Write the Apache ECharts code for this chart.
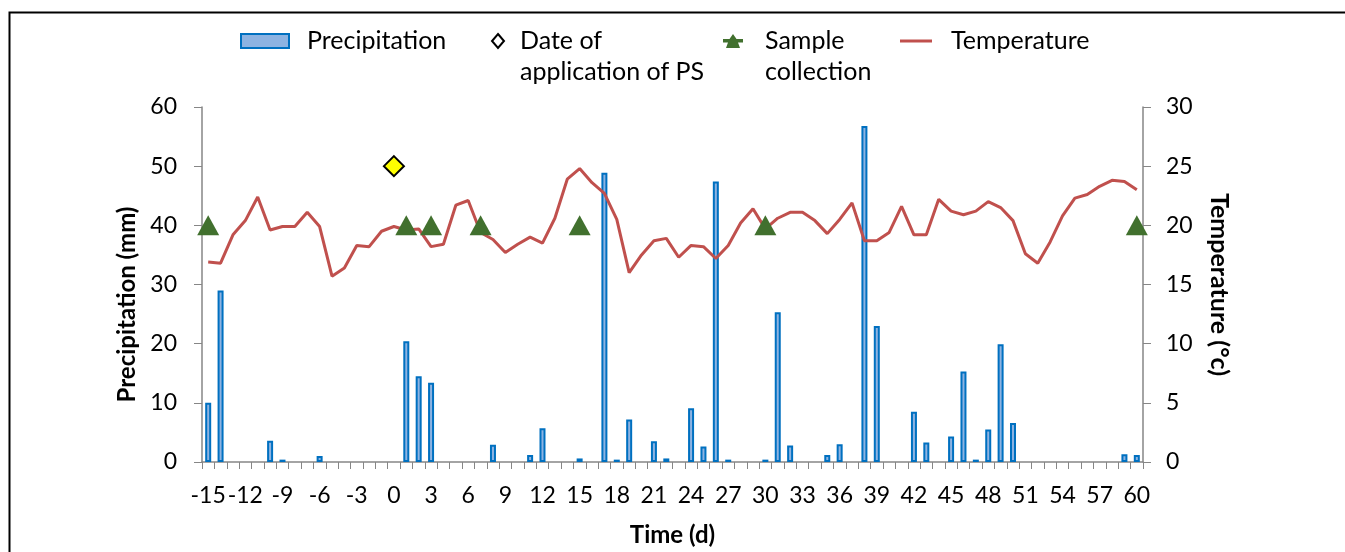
<!DOCTYPE html>
<html>
<head>
<meta charset="utf-8">
<script src="https://cdn.jsdelivr.net/npm/echarts@6/dist/echarts.min.js"></script>
<style>html,body{margin:0;padding:0;background:#fff;}#c{width:1345px;height:552px;}</style>
</head>
<body>
<div id="c"></div>
<script>
const days = [];
for (let d = -15; d <= 60; d++) days.push(String(d));

const precipitation = [
  10, 29, 0, 0, 0, 3.6, 0.4, 0, 0, 1.0,
  0, 0, 0, 0, 0, 0,
  20.4, 14.5, 13.4, 0, 0, 0, 0, 2.9, 0, 0,
  1.2, 5.7, 0, 0, 0.6, 0, 48.9, 0.4, 7.2, 0,
  3.5, 0.6, 0, 9.1, 2.6, 47.4, 0.4, 0, 0, 0.4,
  25.3, 2.8, 0, 0, 1.2, 3.0, 0, 56.8, 23.0, 0,
  0, 8.5, 3.3, 0, 4.3, 15.3, 0.4, 5.5, 19.9, 6.6,
  0, 0, 0, 0, 0, 0, 0, 0, 1.3, 1.2
];

const temperature = [
  16.9, 16.8, 19.2, 20.4, 22.4, 19.6, 19.9, 19.9, 21.1, 19.9,
  15.7, 16.4, 18.3, 18.2, 19.5, 19.9, 19.6, 19.7, 18.2, 18.4,
  21.7, 22.1, 19.4, 18.8, 17.7, 18.4, 19.0, 18.5, 20.6, 23.9,
  24.8, 23.6, 22.7, 20.5, 16.0, 17.5, 18.7, 18.9, 17.3, 18.3,
  18.2, 17.2, 18.3, 20.2, 21.4, 19.7, 20.6, 21.1, 21.1, 20.4,
  19.3, 20.5, 21.9, 18.7, 18.7, 19.4, 21.6, 19.2, 19.2, 22.2,
  21.2, 20.9, 21.2, 22.0, 21.5, 20.4, 17.6, 16.8, 18.6, 20.8,
  22.3, 22.6, 23.3, 23.8, 23.7, 23.0
];

const sampleDays = [-15, 1, 3, 7, 15, 30, 60];
const sampleLevel = 40;
const psDay = 0;
const psLevel = 50;

const FONT = 'Lato';
const chart = echarts.init(document.getElementById('c'), null, {renderer: 'canvas'});

const legendText = {fontFamily: FONT, fontSize: 25, color: '#000', lineHeight: 31};
const sampleIcon = 'path://M10 0 L13.5 5 L20 5 L20 8.5 L15 8.5 L17 14 L3 14 L5 8.5 L0 8.5 L0 5 L6.5 5 Z';

const option = {
  backgroundColor: '#fff',
  animation: false,
  textStyle: {fontFamily: FONT},
  graphic: [{
    type: 'rect',
    shape: {x: 9.5, y: 12.5, width: 1400, height: 700},
    style: {fill: 'none', stroke: '#000', lineWidth: 2},
    silent: true
  }],
  legend: [
    {data: [{name: 'Precipitation', icon: 'rect'}], left: 240, top: 25.5, padding: 0, itemWidth: 48, itemHeight: 14,
     textStyle: Object.assign({}, legendText, {padding: [0, 0, 0, 13]}), selectedMode: false},
    {data: [{name: 'Date of application of PS', icon: 'diamond', itemStyle: {color: '#fff', borderColor: '#000', borderWidth: 2}}],
     left: 491, top: -5.5, padding: 0, itemWidth: 12, itemHeight: 14,
     formatter: function () { return ' \nDate of\napplication of PS'; },
     textStyle: Object.assign({}, legendText, {padding: [0, 0, 0, 11]}), selectedMode: false},
    {data: [{name: 'Sample collection', icon: sampleIcon}], left: 723, top: -5.5, padding: 0, itemWidth: 20, itemHeight: 14,
     formatter: function () { return ' \nSample\ncollection'; },
     textStyle: Object.assign({}, legendText, {padding: [0, 0, 0, 17]}), selectedMode: false},
    {data: [{name: 'Temperature', icon: 'rect', itemStyle: {color: '#c0504d'}}], left: 900, top: 25.5, padding: 0, itemWidth: 32, itemHeight: 3,
     textStyle: Object.assign({}, legendText, {padding: [0, 0, 0, 14]}), selectedMode: false}
  ],
  grid: {left: 202, right: 202, top: 107, bottom: 88, containLabel: false},
  xAxis: {
    type: 'category',
    data: days,
    boundaryGap: true,
    name: 'Time (d)',
    nameLocation: 'middle',
    nameGap: 61,
    nameTextStyle: {fontFamily: FONT, fontSize: 24, fontWeight: 'bold', color: '#000'},
    axisLine: {lineStyle: {color: '#868686', width: 1.5}},
    axisTick: {show: true, interval: 0, length: 7, lineStyle: {color: '#868686'}},
    axisLabel: {interval: 2, fontFamily: FONT, fontSize: 23, color: '#000', margin: 22},
    splitLine: {show: false}
  },
  yAxis: [
    {
      type: 'value', min: 0, max: 60, interval: 10, position: 'left',
      name: 'Precipitation (mm)', nameLocation: 'middle', nameRotate: 90, nameGap: 58,
      nameTextStyle: {fontFamily: FONT, fontSize: 24, fontWeight: 'bold', color: '#000', padding: [0, 40, 0, 0]},
      axisLine: {show: true, lineStyle: {color: '#868686', width: 1.5}},
      axisTick: {show: true, length: 8, lineStyle: {color: '#868686'}},
      axisLabel: {fontFamily: FONT, fontSize: 23, color: '#000', margin: 25},
      splitLine: {show: false}
    },
    {
      type: 'value', min: 0, max: 30, interval: 5, position: 'right',
      name: 'Temperature (°c)', nameLocation: 'middle', nameRotate: -90, nameGap: 64,
      nameTextStyle: {fontFamily: FONT, fontSize: 25, fontWeight: 'bold', color: '#000'},
      axisLine: {show: true, lineStyle: {color: '#868686', width: 1.5}},
      axisTick: {show: true, length: 8, lineStyle: {color: '#868686'}},
      axisLabel: {fontFamily: FONT, fontSize: 23, color: '#000', margin: 23},
      splitLine: {show: false}
    }
  ],
  series: [
    {
      name: 'Precipitation', type: 'bar', yAxisIndex: 0, barWidth: 6,
      data: precipitation.map(v => v === 0 ? null : v),
      itemStyle: {color: '#8db3e2', borderColor: '#0070c0', borderWidth: 2},
      z: 2
    },
    {
      name: 'Temperature', type: 'line', yAxisIndex: 1,
      data: temperature, showSymbol: false, symbol: 'none',
      lineStyle: {color: '#c0504d', width: 3},
      itemStyle: {color: '#c0504d'},
      z: 3
    },
    {
      name: 'Sample collection', type: 'scatter', yAxisIndex: 0,
      data: sampleDays.map(d => [String(d), sampleLevel]),
      symbol: 'triangle', symbolSize: [22, 20],
      itemStyle: {color: '#41702e', opacity: 1},
      z: 4
    },
    {
      name: 'Date of application of PS', type: 'scatter', yAxisIndex: 0,
      data: [[String(psDay), psLevel]],
      symbol: 'diamond', symbolSize: [20, 20],
      itemStyle: {color: '#ffff00', borderColor: '#000', borderWidth: 2, opacity: 1},
      z: 5
    }
  ]
};
chart.setOption(option);
</script>
</body>
</html>
